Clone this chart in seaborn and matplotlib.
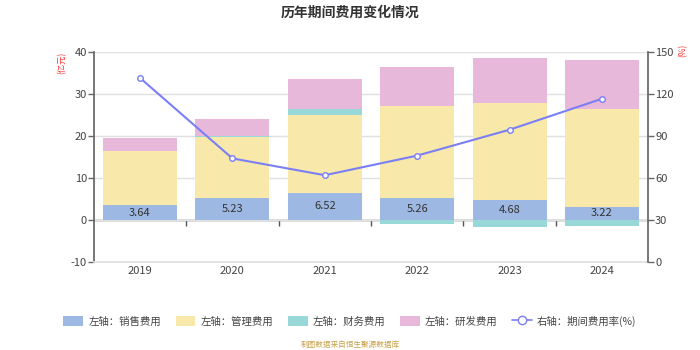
import numpy as np
import pandas as pd
import matplotlib
matplotlib.use("Agg")
import matplotlib.pyplot as plt
from matplotlib.patches import Patch
from matplotlib.lines import Line2D
import seaborn as sns

years = ["2019", "2020", "2021", "2022", "2023", "2024"]
sales = [3.64, 5.23, 6.52, 5.26, 4.68, 3.22]
admin = [12.8, 14.6, 18.5, 21.8, 23.2, 23.3]
finance = [0.0, 0.3, 1.4, -0.9, -1.6, -1.4]
rnd = [3.1, 3.9, 7.3, 9.4, 10.8, 11.5]
rate = [131.6, 74.1, 62.1, 76.1, 94.6, 116.7]

c_sales = "#9db8e2"
c_admin = "#f8e8a9"
c_fin = "#99d8d8"
c_rnd = "#e7b8d9"
c_line = "#7b7ff6"

sns.set_theme(style="white")
plt.rcParams["font.family"] = ["Noto Sans CJK SC", "DejaVu Sans"]
plt.rcParams["axes.unicode_minus"] = False

df = pd.DataFrame({"year": years, "sales": sales, "admin": admin,
                   "finance": finance, "rnd": rnd, "rate": rate})
fin_pos = df["finance"].clip(lower=0)
fin_neg = df["finance"].clip(upper=0)
df["c_sales"] = df["sales"]
df["c_admin"] = df["sales"] + df["admin"]
df["c_fin"] = df["c_admin"] + fin_pos
df["c_rnd"] = df["c_fin"] + df["rnd"]
df["neg"] = fin_neg

fig = plt.figure(figsize=(7, 3.5), dpi=100)
ax = fig.add_axes([0.134, 0.251, 0.792, 0.600])

for col, color in [("c_rnd", c_rnd), ("c_fin", c_fin), ("c_admin", c_admin),
                   ("c_sales", c_sales), ("neg", c_fin)]:
    sns.barplot(data=df, x="year", y=col, color=color, width=0.8,
                saturation=1, linewidth=0, ax=ax, zorder=2)

# labels on sales segment
for i, v in enumerate(sales):
    ax.text(i, v / 2, f"{v:.2f}", ha="center", va="center", fontsize=8,
            color="#333333", zorder=5)

ax.set_ylim(-10, 40)
ax.set_yticks([-10, 0, 10, 20, 30, 40])
ax.set_xlim(-0.5, 5.5)
ax.set_xlabel("")
ax.set_ylabel("")
ax.yaxis.grid(True, color="#e0e0e0", linewidth=1, zorder=0)
ax.set_axisbelow(True)
for s in ["top", "right"]:
    ax.spines[s].set_visible(False)
ax.spines["left"].set_color("#666666")
ax.spines["bottom"].set_color("#e0e0e0")
ax.tick_params(axis="y", length=4, width=1, color="#666666", labelsize=8,
               labelcolor="#444444", left=True, pad=1)
ax.tick_params(axis="x", length=0, labelsize=8, labelcolor="#444444", pad=3)

# zero axis line with category boundary ticks
sec = ax.secondary_xaxis(0.2)
sec.set_xticks(np.arange(1, len(years)) - 0.5)
sec.set_xticklabels([])
sec.tick_params(axis="x", length=4, width=1, color="#555555", direction="out")
sec.spines["bottom"].set_color("#555555")
sec.spines["bottom"].set_linewidth(1)

ax2 = ax.twinx()
sns.lineplot(x=np.arange(len(years)), y=rate, ax=ax2, color=c_line,
             linewidth=1.5, marker="o", markersize=4, markerfacecolor="white",
             markeredgecolor=c_line, markeredgewidth=1, zorder=6)
ax2.set_ylim(0, 150)
ax2.set_yticks([0, 30, 60, 90, 120, 150])
ax2.set_ylabel("")
for s in ["top", "left", "bottom"]:
    ax2.spines[s].set_visible(False)
ax2.spines["right"].set_color("#666666")
ax2.tick_params(axis="y", length=4, width=1, color="#666666", labelsize=8,
                labelcolor="#444444", right=True, pad=1)
ax2.grid(False)

fig.text(0.5, 0.965, "历年期间费用变化情况", ha="center", va="center",
         fontsize=10, fontweight="bold", color="#333333")
fig.text(0.089, 0.82, "(亿元)", rotation=90, ha="center", va="center",
         fontsize=6, color="#ff3333")
fig.text(0.976, 0.855, "(%)", rotation=90, ha="center", va="center",
         fontsize=6, color="#ff3333")

handles = [
    Patch(facecolor=c_sales, edgecolor="none"),
    Patch(facecolor=c_admin, edgecolor="none"),
    Patch(facecolor=c_fin, edgecolor="none"),
    Patch(facecolor=c_rnd, edgecolor="none"),
    Line2D([0], [0], color=c_line, linewidth=1.2, marker="o", markersize=6,
           markerfacecolor="white", markeredgecolor=c_line),
]
labels = ["左轴：销售费用", "左轴：管理费用", "左轴：财务费用", "左轴：研发费用",
          "右轴：期间费用率(%)"]
fig.legend(handles, labels, loc="center", bbox_to_anchor=(0.5, 0.082), ncol=5,
           frameon=False, fontsize=7.5, handlelength=1.9, handleheight=1.1,
           columnspacing=1.4, handletextpad=0.5, labelcolor="#444444")
fig.text(0.5, 0.013, "制图数据来自恒生聚源数据库", ha="center", va="center",
         fontsize=5.5, color="#c9a24a")

fig.savefig("out.png", dpi=100)
